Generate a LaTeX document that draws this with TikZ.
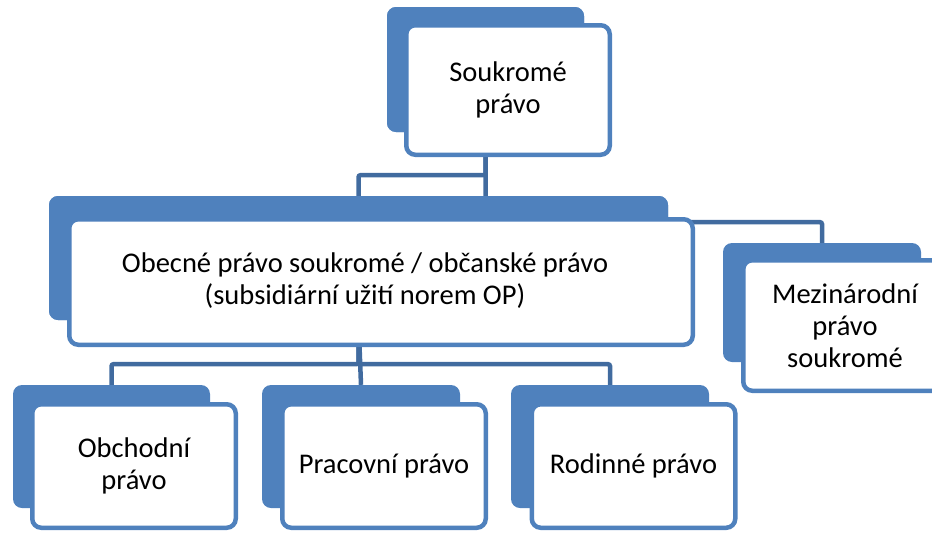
\documentclass[tikz,border=0pt]{standalone}
\usepackage{fontspec}
\setmainfont{Carlito}
\usetikzlibrary{calc}
\definecolor{accent}{HTML}{4F81BD}
\definecolor{linkblue}{HTML}{416B9F}

\begin{document}
\begin{tikzpicture}[x=1pt,y=-1pt]
	% `backbox' is the filled card behind, `frontbox' the white card with the text.
	% `link' is used for the connectors of the hierarchy.
	\tikzstyle{backbox} = [fill=accent,rounded corners=9pt,inner sep=0pt]
	\tikzstyle{frontbox} = [draw=accent,line width=4.5pt,fill=white,rounded corners=9pt,
		inner sep=0pt,align=center,font=\fontsize{28.5}{32}\selectfont]
	\tikzstyle{link} = [draw=linkblue,line width=4.5pt,rounded corners=2pt]
	%
	\useasboundingbox (0,0) rectangle (932,533);
	\clip (0,0) rectangle (932,533);
	% Back cards.
	\node[backbox,minimum width=197pt,minimum height=125pt] (topback) at (485.5,69.5) {};
	\node[backbox,minimum width=619pt,minimum height=124pt] (obecback) at (358.5,258) {};
	\node[backbox,minimum width=198pt,minimum height=119pt] (mezback) at (822,302.5) {};
	\node[backbox,minimum width=197pt,minimum height=123pt] (obchback) at (111.5,446.5) {};
	\node[backbox,minimum width=198pt,minimum height=123pt] (pracback) at (361,446.5) {};
	\node[backbox,minimum width=198pt,minimum height=123pt] (rodback) at (610,446.5) {};
	% Draw lines (behind the cards).
	\draw[link] (topback.south) -- ($(topback.south)+(0,90)$) -| (mezback.north);
	\draw[link] (topback.south) -- ($(topback.south)+(0,43)$) -| (obecback.north);
	\draw[link] (obecback.south) -- ($(obecback.south)+(0,44)$) -| (obchback.north);
	\draw[link] (obecback.south) -- ($(obecback.south)+(0,44)$) -| (rodback.north);
	\draw[link] (obecback.south) -- (pracback.north);
	% Redraw back cards over the lines.
	\node[backbox,minimum width=197pt,minimum height=125pt] at (topback) {};
	\node[backbox,minimum width=619pt,minimum height=124pt] at (obecback) {};
	% Front cards.
	\node[frontbox,minimum width=203.5pt,minimum height=129.5pt] (topfront) at (508,90) {Soukromé\\právo};
	\node[frontbox,minimum width=623.5pt,minimum height=125.5pt] (obecfront) at (381,282) {};
	\node[align=center,font=\fontsize{28.5}{32}\selectfont] (obectext) at ([xshift=-16pt,yshift=1pt]obecfront.center)
		{Obecné právo soukromé / občanské právo\\(subsidiární užití norem OP)};
	\node[frontbox,minimum width=203.5pt,minimum height=130.5pt] (mezfront) at (845,325.5) {Mezinárodní\\právo\\soukromé};
	\node[frontbox,minimum width=203.5pt,minimum height=123.5pt] (obchfront) at (134,466) {Obchodní\\právo};
	\node[frontbox,minimum width=203.5pt,minimum height=123.5pt] (pracfront) at (384,466) {Pracovní právo};
	\node[frontbox,minimum width=203.5pt,minimum height=123.5pt] (rodfront) at (633.5,466) {Rodinné právo};
\end{tikzpicture}
\end{document}
